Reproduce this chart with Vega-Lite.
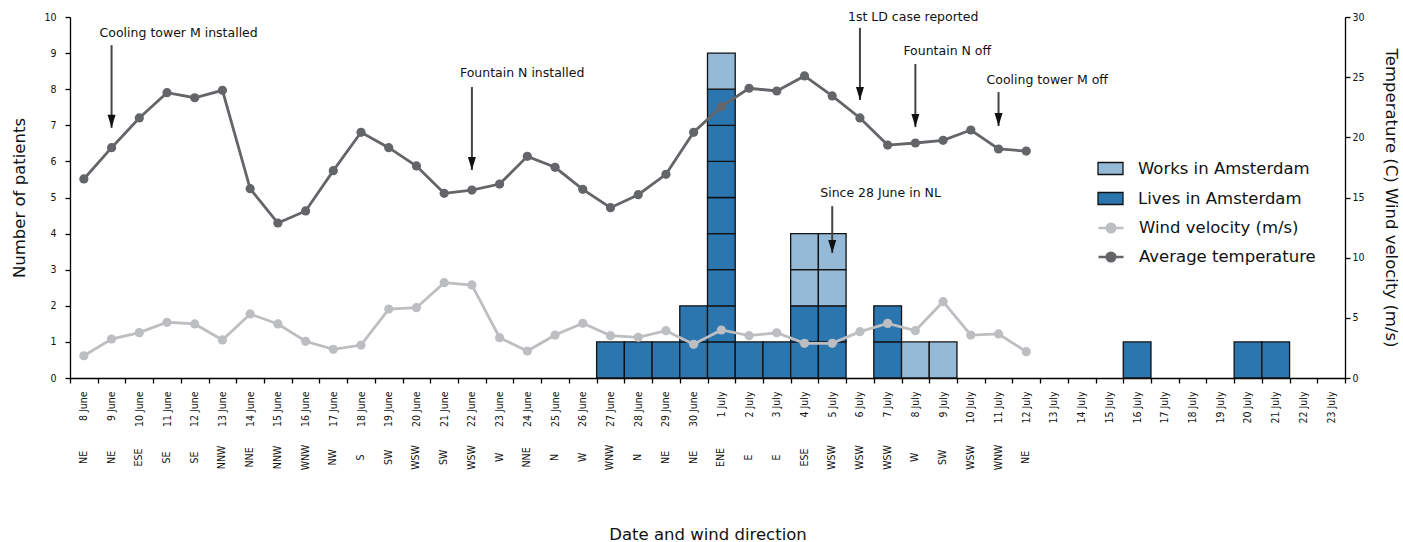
{
  "$schema": "https://vega.github.io/schema/vega-lite/v6.json",
  "width": 1275,
  "height": 361,
  "padding": {"left": 11, "top": 11, "right": 2, "bottom": 0},
  "config": {
    "view": {"stroke": null},
    "font": "DejaVu Sans",
    "axis": {
      "domainColor": "#000", "tickColor": "#000", "labelColor": "#111", "titleColor": "#111",
      "labelFont": "DejaVu Sans Condensed", "labelFontSize": 10.5,
      "titleFont": "DejaVu Sans", "titleFontSize": 16.5, "titleFontWeight": "normal",
      "grid": false, "tickSize": 5, "domainWidth": 1.3, "tickWidth": 1.3
    },
    "axisY": {"labelOverlap": false},
    "legend": {
      "labelFont": "DejaVu Sans", "labelFontSize": 16.5, "labelColor": "#111", "labelLimit": 400
    }
  },
  "datasets": {
    "patients": [
      {"id": 1, "date": "27 June", "series": "Lives in Amsterdam", "n": 1},
      {"id": 2, "date": "28 June", "series": "Lives in Amsterdam", "n": 1},
      {"id": 3, "date": "29 June", "series": "Lives in Amsterdam", "n": 1},
      {"id": 4, "date": "30 June", "series": "Lives in Amsterdam", "n": 1},
      {"id": 5, "date": "30 June", "series": "Lives in Amsterdam", "n": 1},
      {"id": 6, "date": "1 July", "series": "Lives in Amsterdam", "n": 1},
      {"id": 7, "date": "1 July", "series": "Lives in Amsterdam", "n": 1},
      {"id": 8, "date": "1 July", "series": "Lives in Amsterdam", "n": 1},
      {"id": 9, "date": "1 July", "series": "Lives in Amsterdam", "n": 1},
      {"id": 10, "date": "1 July", "series": "Lives in Amsterdam", "n": 1},
      {"id": 11, "date": "1 July", "series": "Lives in Amsterdam", "n": 1},
      {"id": 12, "date": "1 July", "series": "Lives in Amsterdam", "n": 1},
      {"id": 13, "date": "1 July", "series": "Lives in Amsterdam", "n": 1},
      {"id": 14, "date": "1 July", "series": "Works in Amsterdam", "n": 1},
      {"id": 15, "date": "2 July", "series": "Lives in Amsterdam", "n": 1},
      {"id": 16, "date": "3 July", "series": "Lives in Amsterdam", "n": 1},
      {"id": 17, "date": "4 July", "series": "Lives in Amsterdam", "n": 1},
      {"id": 18, "date": "4 July", "series": "Lives in Amsterdam", "n": 1},
      {"id": 19, "date": "4 July", "series": "Works in Amsterdam", "n": 1},
      {"id": 20, "date": "4 July", "series": "Works in Amsterdam", "n": 1},
      {"id": 21, "date": "5 July", "series": "Lives in Amsterdam", "n": 1},
      {"id": 22, "date": "5 July", "series": "Lives in Amsterdam", "n": 1},
      {"id": 23, "date": "5 July", "series": "Works in Amsterdam", "n": 1},
      {"id": 24, "date": "5 July", "series": "Works in Amsterdam", "n": 1},
      {"id": 25, "date": "7 July", "series": "Lives in Amsterdam", "n": 1},
      {"id": 26, "date": "7 July", "series": "Lives in Amsterdam", "n": 1},
      {"id": 27, "date": "8 July", "series": "Works in Amsterdam", "n": 1},
      {"id": 28, "date": "9 July", "series": "Works in Amsterdam", "n": 1},
      {"id": 29, "date": "16 July", "series": "Lives in Amsterdam", "n": 1},
      {"id": 30, "date": "20 July", "series": "Lives in Amsterdam", "n": 1},
      {"id": 31, "date": "21 July", "series": "Lives in Amsterdam", "n": 1}
    ],
    "weather": [
      {"date": "8 June", "dir": "NE", "Average temperature": 16.54, "Wind velocity (m/s)": 1.85},
      {"date": "9 June", "dir": "NE", "Average temperature": 19.14, "Wind velocity (m/s)": 3.24},
      {"date": "10 June", "dir": "ESE", "Average temperature": 21.61, "Wind velocity (m/s)": 3.77},
      {"date": "11 June", "dir": "SE", "Average temperature": 23.71, "Wind velocity (m/s)": 4.63},
      {"date": "12 June", "dir": "SE", "Average temperature": 23.29, "Wind velocity (m/s)": 4.49},
      {"date": "13 June", "dir": "NNW", "Average temperature": 23.91, "Wind velocity (m/s)": 3.16},
      {"date": "14 June", "dir": "NNE", "Average temperature": 15.73, "Wind velocity (m/s)": 5.32},
      {"date": "15 June", "dir": "NNW", "Average temperature": 12.88, "Wind velocity (m/s)": 4.49},
      {"date": "16 June", "dir": "WNW", "Average temperature": 13.88, "Wind velocity (m/s)": 3.05},
      {"date": "17 June", "dir": "NW", "Average temperature": 17.23, "Wind velocity (m/s)": 2.38},
      {"date": "18 June", "dir": "S", "Average temperature": 20.42, "Wind velocity (m/s)": 2.74},
      {"date": "19 June", "dir": "SW", "Average temperature": 19.14, "Wind velocity (m/s)": 5.73},
      {"date": "20 June", "dir": "WSW", "Average temperature": 17.62, "Wind velocity (m/s)": 5.84},
      {"date": "21 June", "dir": "SW", "Average temperature": 15.35, "Wind velocity (m/s)": 7.92},
      {"date": "22 June", "dir": "WSW", "Average temperature": 15.62, "Wind velocity (m/s)": 7.73},
      {"date": "23 June", "dir": "W", "Average temperature": 16.12, "Wind velocity (m/s)": 3.35},
      {"date": "24 June", "dir": "NNE", "Average temperature": 18.42, "Wind velocity (m/s)": 2.24},
      {"date": "25 June", "dir": "N", "Average temperature": 17.51, "Wind velocity (m/s)": 3.57},
      {"date": "26 June", "dir": "W", "Average temperature": 15.68, "Wind velocity (m/s)": 4.55},
      {"date": "27 June", "dir": "WNW", "Average temperature": 14.15, "Wind velocity (m/s)": 3.52},
      {"date": "28 June", "dir": "N", "Average temperature": 15.23, "Wind velocity (m/s)": 3.38},
      {"date": "29 June", "dir": "NE", "Average temperature": 16.93, "Wind velocity (m/s)": 3.93},
      {"date": "30 June", "dir": "NE", "Average temperature": 20.42, "Wind velocity (m/s)": 2.8},
      {"date": "1 July", "dir": "ENE", "Average temperature": 22.55, "Wind velocity (m/s)": 3.99},
      {"date": "2 July", "dir": "E", "Average temperature": 24.08, "Wind velocity (m/s)": 3.52},
      {"date": "3 July", "dir": "E", "Average temperature": 23.85, "Wind velocity (m/s)": 3.76},
      {"date": "4 July", "dir": "ESE", "Average temperature": 25.1, "Wind velocity (m/s)": 2.88},
      {"date": "5 July", "dir": "WSW", "Average temperature": 23.44, "Wind velocity (m/s)": 2.88},
      {"date": "6 July", "dir": "WSW", "Average temperature": 21.61, "Wind velocity (m/s)": 3.85},
      {"date": "7 July", "dir": "WSW", "Average temperature": 19.36, "Wind velocity (m/s)": 4.54},
      {"date": "8 July", "dir": "W", "Average temperature": 19.53, "Wind velocity (m/s)": 3.93},
      {"date": "9 July", "dir": "SW", "Average temperature": 19.75, "Wind velocity (m/s)": 6.34},
      {"date": "10 July", "dir": "WSW", "Average temperature": 20.61, "Wind velocity (m/s)": 3.57},
      {"date": "11 July", "dir": "WNW", "Average temperature": 19.03, "Wind velocity (m/s)": 3.66},
      {"date": "12 July", "dir": "NE", "Average temperature": 18.86, "Wind velocity (m/s)": 2.19}
    ],
    "notes": [
      {"date": "9 June", "label": "Cooling tower M installed", "textY": 28.68, "top": 27.66, "tip": 20.79},
      {"date": "22 June", "label": "Fountain N installed", "textY": 25.35, "top": 24.18, "tip": 17.28},
      {"date": "6 July", "label": "1st LD case reported", "textY": 30.0, "top": 29.1, "tip": 23.1},
      {"date": "8 July", "label": "Fountain N off", "textY": 27.18, "top": 26.1, "tip": 20.85},
      {"date": "11 July", "label": "Cooling tower M off", "textY": 24.75, "top": 23.76, "tip": 20.94},
      {"date": "5 July", "label": "Since 28 June in NL", "textY": 15.36, "top": 14.28, "tip": 10.38}
    ]
  },
  "encoding": {
    "x": {
      "field": "date", "type": "ordinal",
      "scale": {
        "domain": ["8 June","9 June","10 June","11 June","12 June","13 June","14 June","15 June","16 June","17 June","18 June","19 June","20 June","21 June","22 June","23 June","24 June","25 June","26 June","27 June","28 June","29 June","30 June","1 July","2 July","3 July","4 July","5 July","6 July","7 July","8 July","9 July","10 July","11 July","12 July","13 July","14 July","15 July","16 July","17 July","18 July","19 July","20 July","21 July","22 July","23 July"],
        "paddingInner": 0, "paddingOuter": 0
      },
      "axis": {
        "title": "Date and wind direction", "labelAngle": 270, "labelAlign": "right", "labelBaseline": "middle",
        "tickBand": "extent", "labelPadding": 8, "titlePadding": 100
      }
    }
  },
  "layer": [
    {
      "data": {"name": "patients"},
      "mark": {"type": "bar", "stroke": "#111", "strokeWidth": 1.3},
      "encoding": {
        "y": {
          "field": "n", "type": "quantitative", "stack": "zero",
          "scale": {"domain": [0, 10], "nice": false, "zero": true},
          "axis": {"title": "Number of patients", "values": [0,1,2,3,4,5,6,7,8,9,10], "labelOverlap": false, "labelPadding": 9, "titlePadding": 16}
        },
        "detail": {"field": "id"},
        "order": {"field": "series", "sort": "ascending"},
        "fill": {
          "field": "series", "type": "nominal",
          "scale": {
            "domain": ["Works in Amsterdam", "Lives in Amsterdam"],
            "range": ["#94bad8", "#2c76b0"]
          },
          "legend": {
            "title": null, "orient": "none", "legendX": 1027, "legendY": 138,
            "symbolType": "M-1,-0.48H1V0.48H-1Z", "symbolSize": 625,
            "symbolStrokeColor": "#111", "symbolStrokeWidth": 1.3,
            "rowPadding": 7, "labelOffset": 14
          }
        }
      }
    },
    {
      "layer": [
        {
          "data": {"name": "weather"},
          "transform": [{"fold": ["Wind velocity (m/s)", "Average temperature"], "as": ["series", "value"]}],
          "mark": {"type": "line", "strokeWidth": 2.8, "point": {"filled": true, "size": 85, "opacity": 1}},
          "encoding": {
            "y": {
              "field": "value", "type": "quantitative",
              "scale": {"domain": [0, 30], "nice": false},
              "axis": {"orient": "right", "title": "Temperature (C) Wind velocity (m/s)", "values": [0,5,10,15,20,25,30], "titlePadding": 18}
            },
            "color": {
              "field": "series", "type": "nominal",
              "scale": {"domain": ["Wind velocity (m/s)", "Average temperature"], "range": ["#bdbec1", "#636569"]},
              "legend": {
                "title": null, "orient": "none", "legendX": 1027, "legendY": 197,
                "symbolType": "M-1,0H1M-0.34,0A0.34,0.34,0,1,1,0.34,0A0.34,0.34,0,1,1,-0.34,0Z",
                "symbolSize": 625, "symbolStrokeWidth": 2.6,
                "rowPadding": 5, "labelOffset": 14
              }
            }
          }
        },
        {
          "data": {"name": "notes"},
          "mark": {"type": "rule", "stroke": "#444", "strokeWidth": 2},
          "encoding": {
            "y": {"field": "top", "type": "quantitative", "axis": {"orient": "right", "title": "Temperature (C) Wind velocity (m/s)", "values": [0,5,10,15,20,25,30], "titlePadding": 18}},
            "y2": {"field": "tip"}
          }
        },
        {
          "data": {"name": "notes"},
          "mark": {"type": "point", "shape": "M-0.8,-2.6L0.8,-2.6L0,0Z", "size": 100, "filled": true, "fill": "#111", "opacity": 1, "strokeWidth": 0},
          "encoding": {
            "y": {"field": "tip", "type": "quantitative", "axis": {"orient": "right", "title": "Temperature (C) Wind velocity (m/s)", "values": [0,5,10,15,20,25,30], "titlePadding": 18}}
          }
        },
        {
          "data": {"name": "notes"},
          "mark": {"type": "text", "align": "left", "baseline": "middle", "dx": -12, "fontSize": 12.5, "font": "DejaVu Sans", "color": "#111"},
          "encoding": {
            "y": {"field": "textY", "type": "quantitative", "axis": {"orient": "right", "title": "Temperature (C) Wind velocity (m/s)", "values": [0,5,10,15,20,25,30], "titlePadding": 18}},
            "text": {"field": "label"}
          }
        },
        {
          "data": {"name": "weather"},
          "mark": {"type": "text", "angle": 270, "align": "center", "baseline": "middle", "fontSize": 10.5, "font": "DejaVu Sans Condensed", "color": "#111"},
          "encoding": {
            "y": {"datum": -6.6, "type": "quantitative", "axis": {"orient": "right", "title": "Temperature (C) Wind velocity (m/s)", "values": [0,5,10,15,20,25,30], "titlePadding": 18}},
            "text": {"field": "dir"}
          }
        }
      ]
    }
  ],
  "resolve": {"scale": {"y": "independent"}}
}
